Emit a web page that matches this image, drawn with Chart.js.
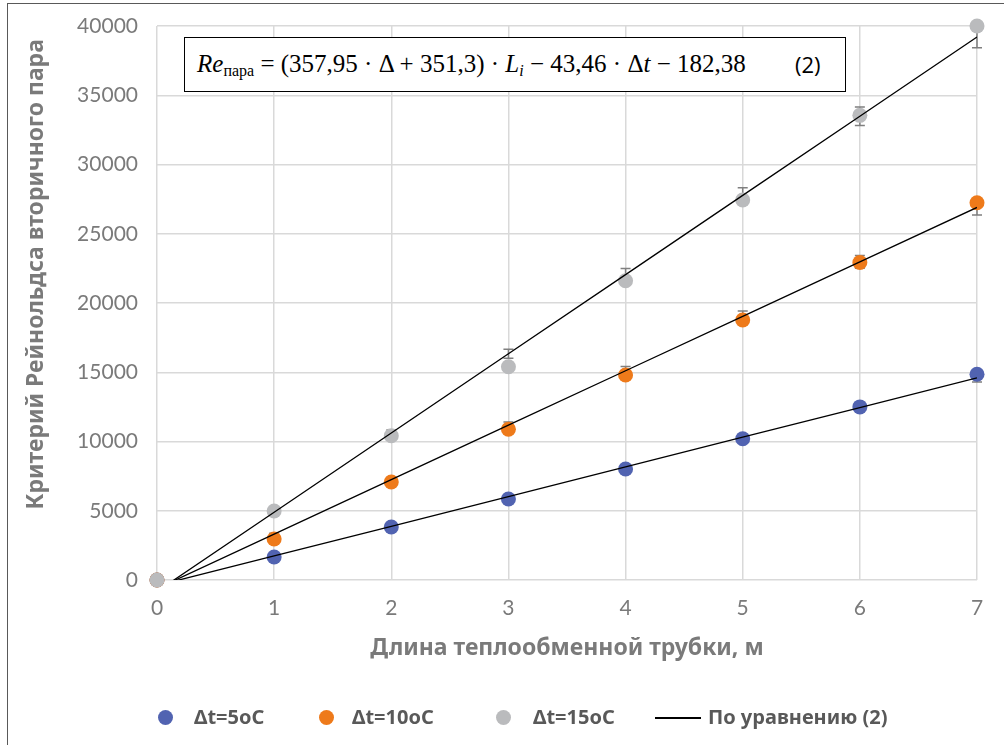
<!DOCTYPE html>
<html>
<head>
<meta charset="utf-8">
<script src="https://cdn.jsdelivr.net/npm/chart.js@4.4.1/dist/chart.umd.min.js"></script>
<style>
  html, body { margin: 0; padding: 0; background: #fff; overflow: hidden; }
  #wrap { position: relative; width: 1004px; height: 745px; }
  #frame { position: absolute; left: 7px; top: 3px; width: 1100px; height: 800px; border: 1.5px solid #595959; box-sizing: border-box; }
  #equation {
    position: absolute; left: 184px; top: 37px; width: 662px; height: 55px;
    box-sizing: border-box; border: 1.5px solid #000; background: #fff;
    font-family: "Liberation Serif", serif; font-size: 25px; color: #000;
    line-height: 52px; padding-left: 12px; white-space: nowrap;
  }
  #equation sub { font-size: 16px; vertical-align: -4px; line-height: 0; }
  #equation .num { position: absolute; left: 610px; top: 0; font-family: "Open Sans", sans-serif; font-size: 22px; }
  .leg { position: absolute; top: 705px; font-family: "Noto Sans", sans-serif; font-weight: bold; font-size: 20px; color: #595959; white-space: nowrap; line-height: 24px; }
  .dot { position: absolute; width: 15px; height: 15px; border-radius: 50%; top: 710px; }
  .ln { position: absolute; top: 717px; height: 1.5px; background: #000; }
</style>
</head>
<body>
<div id="wrap">
  <canvas id="chart" width="1004" height="745"></canvas>
  <div id="frame"></div>
  <div id="equation"><i>Re</i><sub>пара</sub> = (357,95 · Δ + 351,3) · <i>L<sub>i</sub></i> − 43,46 · Δ<i>t</i> − 182,38<span class="num">(2)</span></div>
  <div id="legend"></div>
</div>
<script>
// Length of the heat-exchange tube, m
const lengths = [0, 1, 2, 3, 4, 5, 6, 7];

// Measured Reynolds numbers for each temperature difference
const re5 = [0, 1660, 3830, 5850, 8010, 10200, 12500, 14860];
const re10 = [0, 2960, 7080, 10880, 14800, 18770, 22920, 27240];
const re15 = [0, 4980, 10420, 15400, 21610, 27440, 33550, 40000];

// Values by equation (2)
const fit5 = [-400, 1740, 3880, 6020, 8160, 10310, 12450, 14590];
const fit10 = [-620, 3310, 7250, 11180, 15110, 19040, 22970, 26900];
const fit15 = [-830, 4890, 10610, 16330, 22050, 27770, 33490, 39210];

// Error bars on the equation lines, percent
const errorPercent = 2;

const seriesLabels = ['Δt=5oC', 'Δt=10oC', 'Δt=15oC'];
const lineLabel = 'По уравнению (2)';
const colors = ['#5163b1', '#ee7a1a', '#babbbd'];

const gridColor = '#d9d9d9';
const textColor = '#7a7a7a';

function toPoints(values) {
    return lengths.map((x, i) => ({ x: x, y: values[i] }));
}

// Draws the percent error bars of the equation lines under everything else
const errorBarsPlugin = {
    id: 'errorBars',
    beforeDatasetsDraw(chart) {
        const ctx = chart.ctx;
        const xs = chart.scales.x;
        const ys = chart.scales.y;
        ctx.save();
        ctx.strokeStyle = '#7f7f7f';
        ctx.lineWidth = 1.5;
        chart.data.datasets.forEach(ds => {
            if (!ds.isFit) return;
            ds.data.forEach(p => {
                if (p.y <= 0) return;
                const px = xs.getPixelForValue(p.x);
                const top = ys.getPixelForValue(p.y * (1 + errorPercent / 100));
                const bottom = ys.getPixelForValue(p.y * (1 - errorPercent / 100));
                ctx.beginPath();
                ctx.moveTo(px, top);
                ctx.lineTo(px, bottom);
                ctx.moveTo(px - 5, top);
                ctx.lineTo(px + 5, top);
                ctx.moveTo(px - 5, bottom);
                ctx.lineTo(px + 5, bottom);
                ctx.stroke();
            });
        });
        ctx.restore();
    }
};

const measured = [re5, re10, re15].map((vals, i) => ({
    type: 'scatter',
    label: seriesLabels[i],
    data: toPoints(vals),
    backgroundColor: colors[i],
    borderColor: colors[i],
    pointRadius: 7.5,
    pointHoverRadius: 7.5,
    borderWidth: 0,
    clip: false,
    order: 4 - i
}));

const fits = [fit5, fit10, fit15].map(vals => ({
    type: 'line',
    label: lineLabel,
    isFit: true,
    data: toPoints(vals),
    borderColor: '#000',
    borderWidth: 1.3,
    pointRadius: 0,
    fill: false,
    tension: 0,
    order: 0
}));

new Chart(document.getElementById('chart'), {
    type: 'scatter',
    data: { datasets: measured.concat(fits) },
    options: {
        responsive: false,
        animation: false,
        layout: { padding: { left: 10, right: 27, top: 26, bottom: 83 } },
        plugins: {
            legend: { display: false },
            tooltip: { enabled: false }
        },
        scales: {
            x: {
                type: 'linear',
                min: 0,
                max: 7,
                afterFit(scale) { scale.height = 82; },
                ticks: { stepSize: 1, padding: 0, color: textColor, font: { family: 'Lato', size: 21 } },
                grid: { color: gridColor, lineWidth: 1.5, drawTicks: true, tickLength: 16, tickColor: 'rgba(0,0,0,0)' },
                border: { display: false },
                title: {
                    display: true,
                    text: 'Длина теплообменной трубки, м',
                    color: textColor,
                    padding: { top: 0, bottom: 0 },
                    font: { family: 'Noto Sans', size: 23, weight: 'bold' }
                }
            },
            y: {
                type: 'linear',
                min: 0,
                max: 40000,
                afterFit(scale) { scale.width = 147; },
                ticks: {
                    stepSize: 5000,
                    padding: 0,
                    color: textColor,
                    font: { family: 'Lato', size: 21 },
                    callback: value => String(value)
                },
                grid: { color: gridColor, lineWidth: 1.5, drawTicks: true, tickLength: 19, tickColor: 'rgba(0,0,0,0)' },
                border: { display: false },
                title: {
                    display: true,
                    // leading spaces lift the title a little above the axis centre, as in the original
                    text: '\u2002\u2002\u2002\u2002\u2002Критерий Рейнольдса вторичного пара',
                    color: textColor,
                    padding: { top: 13, bottom: 0 },
                    font: { family: 'Noto Sans', size: 23, weight: 'bold' }
                }
            }
        }
    },
    plugins: [errorBarsPlugin]
});

// Legend below the chart
const legend = document.getElementById('legend');
const dotX = [158, 319, 496];
const textX = [194, 352, 533];
seriesLabels.forEach((label, i) => {
    const dot = document.createElement('div');
    dot.className = 'dot';
    dot.style.left = dotX[i] + 'px';
    dot.style.background = colors[i];
    legend.appendChild(dot);
    const txt = document.createElement('div');
    txt.className = 'leg';
    txt.style.left = textX[i] + 'px';
    txt.textContent = label;
    legend.appendChild(txt);
});
const ln = document.createElement('div');
ln.className = 'ln';
ln.style.left = '655px';
ln.style.width = '46px';
legend.appendChild(ln);
const lt = document.createElement('div');
lt.className = 'leg';
lt.style.left = '708px';
lt.textContent = lineLabel;
legend.appendChild(lt);
</script>
</body>
</html>
